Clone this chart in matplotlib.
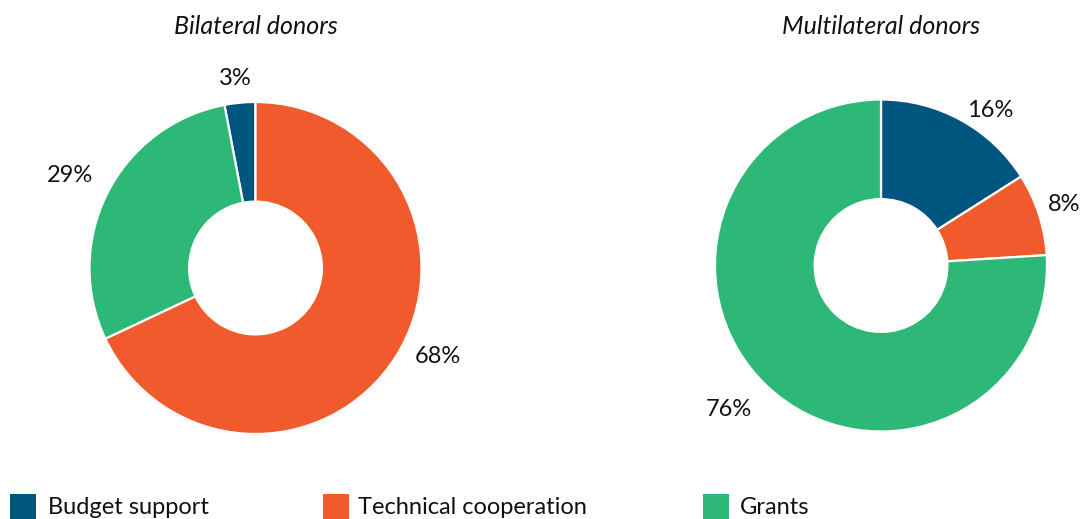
import numpy as np
import matplotlib
matplotlib.use("Agg")
import matplotlib.pyplot as plt
from matplotlib.patches import Rectangle

# data
CATEGORIES = ["Budget support", "Technical cooperation", "Grants"]
COLORS = ["#00567f", "#f15a2c", "#2db877"]
BILATERAL = [3, 68, 29]
MULTILATERAL = [16, 8, 76]
TITLES = ["Bilateral donors", "Multilateral donors"]

# layout (pixels of the 1083x519 frame)
W, H = 1083, 519
CENTERS = [(255.5, 268.0), (881.0, 265.5)]
RADIUS_PX = 166.0
HOLE = 0.40
# label placement per slice: (radial distance in radii, angular nudge in degrees)
LABEL_POS = [[(1.15, 0.6), (1.22, 6.4), (1.25, 0.6)],
             [(1.14, -6.3), (1.16, 0.4), (1.26, -3.3)]]
FONT = ["Lato", "DejaVu Sans"]
FS = 17
TITLE_FS = 18
LEG_SQ_X = [10, 323, 703]
LEG_TXT_X = [48, 358, 740]

plt.rcParams["font.family"] = FONT
fig = plt.figure(figsize=(W / 100, H / 100), dpi=100, facecolor="white")


def donut(center, values, title, start_on_first_end, label_pos):
    span = 1.5
    cx, cy = center
    side = 2 * span * RADIUS_PX
    ax = fig.add_axes([(cx - side / 2) / W, (H - cy - side / 2) / H, side / W, side / H])
    total = float(sum(values))
    # left chart: first slice ends at 12 o'clock; right chart: first slice starts there
    start = 90 + values[0] / total * 360 if start_on_first_end else 90
    ax.pie(values, colors=COLORS, startangle=start, counterclock=False, radius=1.0,
           wedgeprops=dict(width=1 - HOLE, edgecolor="white", linewidth=1.6))
    ang = start
    for v, (d, nudge) in zip(values, label_pos):
        mid = np.deg2rad(ang - v / total * 180 + nudge)
        ax.text(d * np.cos(mid), d * np.sin(mid), f"{v}%", fontsize=FS,
                ha="center", va="center", color="#111111")
        ang -= v / total * 360
    ax.set_xlim(-span, span); ax.set_ylim(-span, span)
    ax.set_aspect("equal"); ax.set_axis_off()
    fig.text(cx / W, 1 - 26 / H, title, fontsize=TITLE_FS, style="italic",
             ha="center", va="center", color="#111111")


donut(CENTERS[0], BILATERAL, TITLES[0], True, LABEL_POS[0])
donut(CENTERS[1], MULTILATERAL, TITLES[1], False, LABEL_POS[1])

# legend along the bottom edge (runs off the frame like the original)
for name, col, sx, tx in zip(CATEGORIES, COLORS, LEG_SQ_X, LEG_TXT_X):
    fig.add_artist(Rectangle((sx / W, 0), 26 / W, 25 / H, transform=fig.transFigure,
                             facecolor=col, edgecolor="none"))
    fig.text(tx / W, 1 - 508 / H, name, fontsize=FS, ha="left", va="center", color="#111111")

fig.savefig("out.png", dpi=100, facecolor="white")
